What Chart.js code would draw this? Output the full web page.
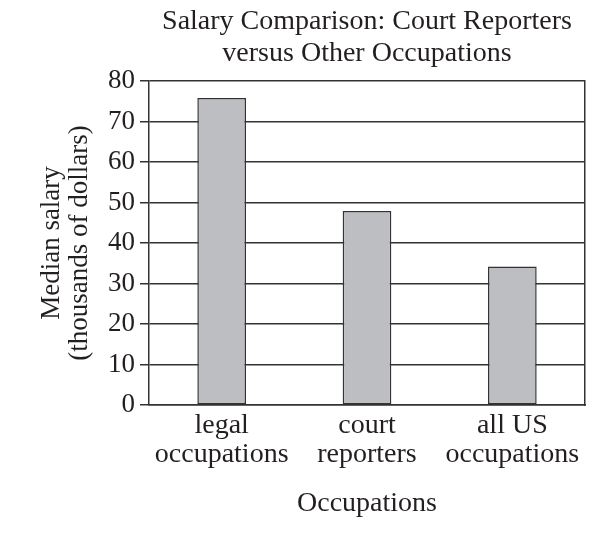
<!DOCTYPE html>
<html>
<head>
<meta charset="utf-8">
<script src="https://cdn.jsdelivr.net/npm/chart.js@4/dist/chart.umd.min.js"></script>
<style>
  html, body { margin: 0; padding: 0; background: #fff; }
  #wrap { width: 611px; height: 543px; }
</style>
</head>
<body>
<div id="wrap"><canvas id="chart" width="611" height="543"></canvas></div>
<script>
// values (thousands of dollars)
const categories = [['legal', 'occupations'], ['court', 'reporters'], ['all US', 'occupations']];
const salaries = [75.8, 47.9, 34.2];
const titleLines = ['Salary Comparison: Court Reporters', 'versus Other Occupations'];
const yTitleLines = ['Median salary', '(thousands of dollars)'];
const xTitle = 'Occupations';

const ink = '#231f20';
const lineCol = '#333333';
const serif = "'Liberation Serif', 'Times New Roman', serif";

// keep the chart title centred over the plot instead of the whole canvas
const centreTitle = {
  id: 'centreTitle',
  afterLayout(chart){
    const t = chart.titleBlock;
    if(!t) return;
    t.left = chart.chartArea.left;
    t.right = chart.chartArea.right;
  }
};

new Chart(document.getElementById('chart'), {
  type: 'bar',
  data: {
    labels: categories,
    datasets: [{
      data: salaries,
      backgroundColor: '#bdbec1',
      borderColor: lineCol,
      borderWidth: 1.5,
      borderSkipped: false,
      barPercentage: 0.335,
      categoryPercentage: 1
    }]
  },
  options: {
    responsive: false,
    animation: false,
    layout: { padding: { left: 38, right: 26, top: 0, bottom: 0 } },
    plugins: {
      legend: { display: false },
      tooltip: { enabled: false },
      title: {
        display: true,
        text: titleLines,
        color: ink,
        font: { family: serif, size: 28, weight: 'normal', lineHeight: 32 / 28 },
        padding: { top: 6, bottom: 11 }
      }
    },
    scales: {
      x: {
        grid: { display: false, drawTicks: false },
        border: { display: true, color: lineCol, width: 1.5 },
        ticks: {
          color: ink,
          padding: 6,
          font: { family: serif, size: 28, lineHeight: 29 / 28 },
          maxRotation: 0,
          autoSkip: false
        },
        title: {
          display: true,
          text: xTitle,
          color: ink,
          font: { family: serif, size: 28, lineHeight: 31 / 28 },
          padding: { top: 0, bottom: 24 }
        },
        afterFit(s){ s.height = 138; }
      },
      y: {
        min: 0,
        max: 80,
        grid: { color: lineCol, lineWidth: 1.5, drawTicks: true, tickLength: 9 },
        border: { display: true, color: lineCol, width: 1.5 },
        ticks: {
          stepSize: 10,
          color: ink,
          padding: 5,
          font: { family: serif, size: 27 }
        },
        title: {
          display: true,
          text: yTitleLines,
          color: ink,
          font: { family: serif, size: 27, lineHeight: 28 / 27 },
          padding: { top: 0, bottom: 0 }
        },
        afterFit(s){ s.width = 111; }
      },
      yRight: {
        position: 'right',
        min: 0,
        max: 80,
        grid: { display: false, drawTicks: false },
        border: { display: true, color: lineCol, width: 1.5 },
        ticks: { display: false },
        afterFit(s){ s.width = 0; }
      }
    }
  },
  plugins: [centreTitle]
});
</script>
</body>
</html>
